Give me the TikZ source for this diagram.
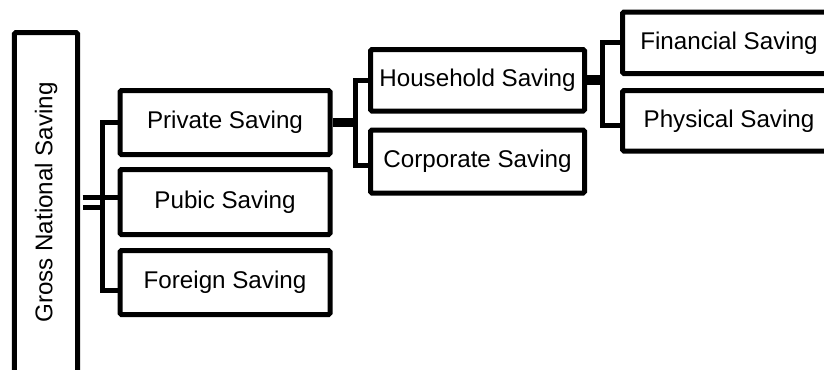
\documentclass[tikz,border=0pt]{standalone}
\usepackage{fontspec}
\setmainfont{Liberation Sans}
\usetikzlibrary{calc}

\begin{document}
\begin{tikzpicture}[
  box/.style={draw, line width=0.125cm, inner sep=0pt, rounded corners=1pt,
    font=\fontsize{17.2}{20}\selectfont},
  wide/.style={box, minimum width=5.25cm},
  link/.style={line width=0.125cm}
]
\clip (0, 0) rectangle (20.6, -9.225);

\node[box, rotate=90, minimum width=8.5cm, minimum height=1.575cm] (gns) at (1.15, -5.0625) {Gross National Saving};

\node[wide, minimum height=1.6cm] (priv) at (5.625, -3.0625) {Private Saving};
\node[wide, minimum height=1.625cm] (pub) at (5.625, -5.05) {Pubic Saving};
\node[wide, minimum height=1.6cm] (forg) at (5.625, -7.0625) {Foreign Saving};

\node[box, minimum width=5.35cm, minimum height=1.5375cm] (hh) at (11.9375, -2.00625) {Household Saving};
\node[box, minimum width=5.35cm, minimum height=1.575cm] (corp) at (11.9375, -4.0375) {Corporate Saving};

\node[box, minimum width=5.325cm, minimum height=1.5375cm] (fin) at (18.225, -1.06875) {Financial Saving};
\node[box, minimum width=5.325cm, minimum height=1.5125cm] (phys) at (18.225, -3.01875) {Physical Saving};

% trunks and stub ends
\coordinate (t1) at (2.5625, 0);
\coordinate (t2) at (8.875, 0);
\coordinate (t3) at (15.0625, 0);
\coordinate (pstub) at ($(pub.west) + (0, 0.125)$);
\coordinate (fstub) at ($(forg.west) + (0, -0.2)$);
\coordinate (cstub) at ($(corp.west) + (0, -0.1)$);
\coordinate (ystub) at ($(phys.west) + (0, -0.12)$);

\draw[link, double, double distance=0.125cm, shorten <=0.0625cm] (gns.south) -- (t1 |- gns.south);
\draw[link] (priv.west) -- (t1 |- priv.west) -- (t1 |- fstub) -- (fstub);
\draw[link] (t1 |- pstub) -- (pstub);

\draw[link, line width=0.225cm] (priv.east) -- (t2 |- priv.east);
\draw[link] (hh.west) -- (t2 |- hh.west) -- (t2 |- cstub) -- (cstub);

\draw[link, line width=0.25cm] (hh.east) -- (t3 |- hh.east);
\draw[link] (fin.west) -- (t3 |- fin.west) -- (t3 |- ystub) -- (ystub);

\end{tikzpicture}
\end{document}
